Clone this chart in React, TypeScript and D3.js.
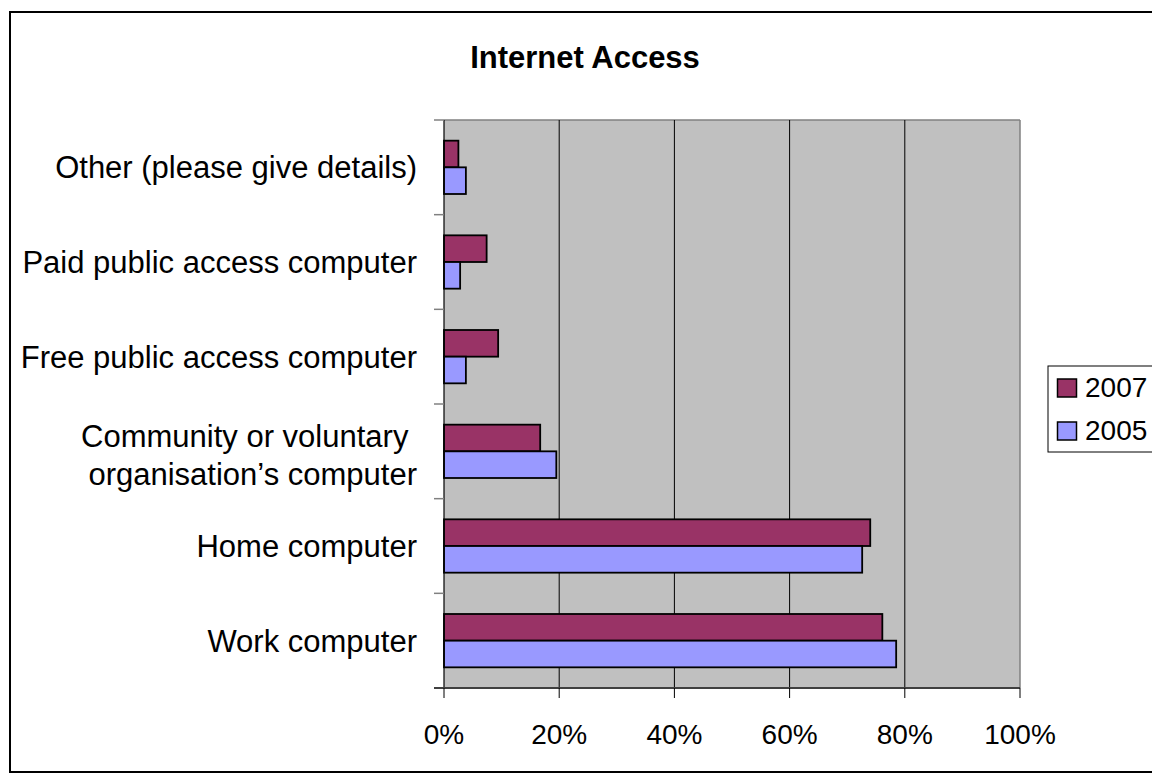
import React from "react";
import * as d3 from "d3";

const categories = [
  "Other (please give details)",
  "Paid public access computer",
  "Free public access computer",
  "Community or voluntary organisation’s computer",
  "Home computer",
  "Work computer",
];
const labelLines: string[][] = [
  ["Other (please give details)"],
  ["Paid public access computer"],
  ["Free public access computer"],
  ["Community or voluntary ", "organisation’s computer"],
  ["Home computer"],
  ["Work computer"],
];
const seriesNames = ["2007", "2005"];
const values2007 = [2.5, 7.4, 9.4, 16.7, 74.0, 76.1];
const values2005 = [3.8, 2.8, 3.8, 19.5, 72.6, 78.5];
const xTicks = [0, 20, 40, 60, 80, 100];
const colors: Record<string, string> = { "2007": "#993366", "2005": "#9999FF" };

const FONT = "'Liberation Sans', Arial, Helvetica, sans-serif";

export default function App() {
  const left = 444, right = 1020, top = 120, bottom = 688;
  const x = d3.scaleLinear().domain([0, 100]).range([left, right]);
  const y = d3.scaleBand<string>().domain(categories).range([top, bottom]).padding(0);
  const inner = d3
    .scaleBand<string>()
    .domain(seriesNames)
    .range([0, y.bandwidth()])
    .paddingInner(0)
    .paddingOuter(0.775);
  const seriesVals: Record<string, number[]> = { "2007": values2007, "2005": values2005 };

  return (
    <svg
      width={1152}
      height={774}
      style={{ position: "absolute", left: 0, top: 0, fontFamily: FONT }}
    >
      <rect x={0} y={0} width={1152} height={774} fill="#fff" />
      {/* outer chart border */}
      <rect x={10} y={12} width={1160} height={760} fill="none" stroke="#000" strokeWidth={2} />
      {/* title */}
      <text x={585} y={68} textAnchor="middle" fontWeight="bold" fontSize={31} fill="#000">
        Internet Access
      </text>
      {/* plot area */}
      <rect x={left} y={top} width={right - left} height={bottom - top} fill="#C0C0C0" />
      <line x1={left} x2={right} y1={top} y2={top} stroke="#808080" strokeWidth={1.5} />
      <line x1={right} x2={right} y1={top} y2={bottom} stroke="#808080" strokeWidth={1.5} />
      {/* gridlines */}
      {xTicks.slice(1, -1).map((t) => (
        <line key={t} x1={x(t)} x2={x(t)} y1={top} y2={bottom} stroke="#000" strokeWidth={1} />
      ))}
      {/* bars */}
      {categories.map((c, i) =>
        seriesNames.map((s) => (
          <rect
            key={c + s}
            x={x(0)}
            y={(y(c) as number) + (inner(s) as number)}
            width={x(seriesVals[s][i]) - x(0)}
            height={inner.bandwidth()}
            fill={colors[s]}
            stroke="#000"
            strokeWidth={1.8}
          />
        ))
      )}
      {/* left axis */}
      <line x1={left} x2={left} y1={top} y2={bottom} stroke="#000" strokeWidth={1.2} />
      {categories.map((c) => (
        <line key={"t" + c} x1={left - 10} x2={left} y1={y(c)} y2={y(c)} stroke="#808080" strokeWidth={1.5} />
      ))}
      {/* bottom axis */}
      <line x1={left - 10} x2={right} y1={bottom} y2={bottom} stroke="#404040" strokeWidth={2} />
      {xTicks.map((t) => (
        <g key={"x" + t}>
          <line x1={x(t)} x2={x(t)} y1={bottom} y2={bottom + 10} stroke="#000" strokeWidth={1} />
          <text x={x(t)} y={744} textAnchor="middle" fontSize={28} fill="#000">
            {t + "%"}
          </text>
        </g>
      ))}
      {/* category labels */}
      {categories.map((c, i) => {
        const cy = (y(c) as number) + y.bandwidth() / 2;
        const lines = labelLines[i];
        const lh = 38;
        const start = cy - ((lines.length - 1) * lh) / 2 + (lines.length > 1 ? 4 : 0);
        return lines.map((ln, j) => (
          <text
            key={c + j}
            x={417}
            y={start + j * lh + 11}
            textAnchor="end"
            fontSize={31}
            fill="#000"
            style={{ whiteSpace: "pre" }}
          >
            {ln}
          </text>
        ));
      })}
      {/* legend */}
      <rect x={1048} y={366} width={120} height={86} fill="#fff" stroke="#000" strokeWidth={1} />
      {seriesNames.map((s, i) => (
        <g key={"l" + s}>
          <rect x={1057.5} y={379 + i * 43} width={19} height={18} fill={colors[s]} stroke="#000" strokeWidth={1.5} />
          <text x={1085} y={397 + i * 43} fontSize={28} fill="#000">
            {s}
          </text>
        </g>
      ))}
    </svg>
  );
}
